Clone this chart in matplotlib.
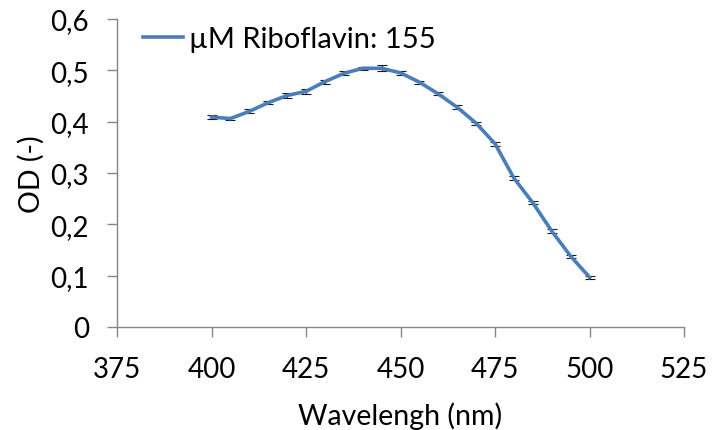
import matplotlib
matplotlib.use("Agg")
import matplotlib.pyplot as plt
from matplotlib.ticker import FuncFormatter, MultipleLocator
from matplotlib.lines import Line2D

wavelength = [400, 405, 410, 415, 420, 425, 430, 435, 440, 445, 450,
              455, 460, 465, 470, 475, 480, 485, 490, 495, 500]
od = [0.409, 0.406, 0.420, 0.437, 0.451, 0.459, 0.478, 0.494, 0.504, 0.504, 0.495,
      0.477, 0.454, 0.428, 0.397, 0.357, 0.290, 0.242, 0.187, 0.138, 0.097]
od_err = [0.0045, 0.003, 0.004, 0.003, 0.004, 0.005, 0.004, 0.004, 0.003, 0.006, 0.004,
          0.003, 0.003, 0.004, 0.003, 0.004, 0.004, 0.003, 0.003, 0.003, 0.003]
series_label = "µM Riboflavin: 155"
x_label = "Wavelengh (nm)"
y_label = "OD (-)"

plt.rcParams['font.family'] = ['Lato', 'DejaVu Sans']

fig = plt.figure(figsize=(7.12, 4.31), dpi=100)
ax = fig.add_axes([117/712, 1-328/431, (684-117)/712, (328-20)/431])

ax.errorbar(wavelength, od, yerr=od_err, color='#4A7EBB', lw=2.6,
            ecolor='#1a1a1a', elinewidth=0.8, capsize=3.6, capthick=0.8,
            label=series_label, zorder=3)

ax.set_xlim(375, 525)
ax.set_ylim(0, 0.6)
ax.xaxis.set_major_locator(MultipleLocator(25))
ax.yaxis.set_major_locator(MultipleLocator(0.1))
ax.yaxis.set_major_formatter(FuncFormatter(lambda v, p: ('%g' % round(v, 2)).replace('.', ',')))

for s in ['top', 'right']:
    ax.spines[s].set_visible(False)
for s in ['left', 'bottom']:
    ax.spines[s].set_color('#868686')
    ax.spines[s].set_linewidth(1.0)
ax.tick_params(direction='out', length=7.2, width=1.0, color='#868686',
               labelsize=20, labelcolor='black')
ax.tick_params(axis='x', pad=14)
ax.tick_params(axis='y', pad=13)

ax.set_xlabel(x_label, fontsize=20.5, labelpad=14)
ax.set_ylabel(y_label, fontsize=20.5, labelpad=4)

h = [Line2D([], [], color='#4A7EBB', lw=2.6)]
ax.legend(h, [series_label], loc='center left', bbox_to_anchor=(0.045, 0.935), frameon=False,
          fontsize=21, handlelength=1.4, handletextpad=0.2, borderaxespad=0, borderpad=0)

fig.savefig('out.png', dpi=100)
